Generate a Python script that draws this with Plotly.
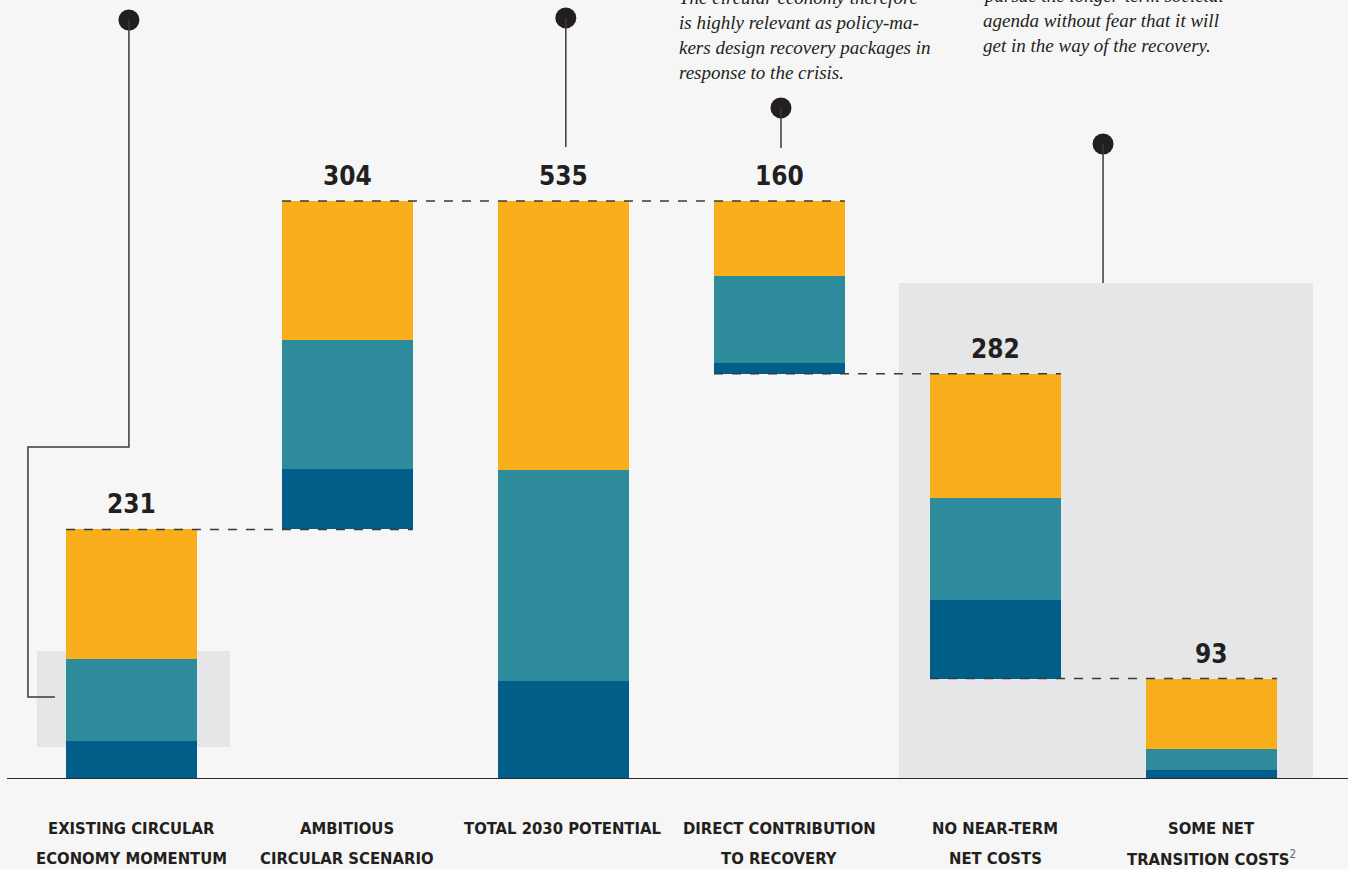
import plotly.graph_objects as go

# Waterfall of the circular-economy potential, split in three stacked components
categories = [
    "EXISTING CIRCULAR<br>ECONOMY MOMENTUM",
    "AMBITIOUS<br>CIRCULAR SCENARIO",
    "TOTAL 2030 POTENTIAL",
    "DIRECT CONTRIBUTION<br>TO RECOVERY",
    "NO NEAR-TERM<br>NET COSTS",
    "SOME NET<br>TRANSITION COSTS<sup>2</sup>",
]
kinds = ["up", "up", "total", "down", "down", "down"]
totals = [231, 304, 535, 160, 282, 93]
seg_blue = [35, 56, 91, 10, 73, 8]
seg_teal = [76, 119, 195, 81, 94, 20]
seg_yellow = [120, 129, 249, 69, 115, 65]

note_left = [
    "The circular economy therefore",
    "is highly relevant as policy-ma-",
    "kers design recovery packages in",
    "response to the crisis.",
]
note_right = [
    "pursue the longer-term societal",
    "agenda without fear that it will",
    "get in the way of the recovery.",
]

BG = "#f6f6f6"
GREY_BOX = "#e5e6e7"
INK = "#231f20"
LINE = "#3a3a3a"
C_BLUE = "#005e89"
C_TEAL = "#2d8b9c"
C_YELLOW = "#f9af1b"
NUM_FONT = "Liberation Sans Narrow, DejaVu Sans Condensed, Arial Narrow, DejaVu Sans, sans-serif"
NOTE_FONT = "Liberation Serif, DejaVu Serif, serif"

W = 0.606  # bar width in category units
xs = list(range(len(categories)))

# floating base of each waterfall column
bases, levels = [], []
running = 0
for k, t in zip(kinds, totals):
    if k == "up":
        bases.append(running)
        running += t
    elif k == "total":
        bases.append(0)
        running = t
    else:
        running -= t
        bases.append(running)
    levels.append(running)

base_blue = bases
base_teal = [b + v for b, v in zip(bases, seg_blue)]
base_yellow = [b + v for b, v in zip(base_teal, seg_teal)]

fig = go.Figure()
for vals, bs, col in [(seg_blue, base_blue, C_BLUE),
                      (seg_teal, base_teal, C_TEAL),
                      (seg_yellow, base_yellow, C_YELLOW)]:
    fig.add_trace(go.Bar(x=xs, y=vals, base=bs, width=W,
                         marker=dict(color=col, line=dict(width=0)),
                         hoverinfo="skip", showlegend=False))

shapes = []
# grey highlight panels
shapes.append(dict(type="rect", xref="x", yref="y", x0=-0.4375, x1=0.456,
                   y0=29.6, y1=118.5, fillcolor=GREY_BOX, line=dict(width=0), layer="below"))
shapes.append(dict(type="rect", xref="x", yref="y", x0=3.553, x1=5.469,
                   y0=0, y1=459, fillcolor=GREY_BOX, line=dict(width=0), layer="below"))

# dashed connectors, merged when consecutive steps share a level
segs = []
for i in range(len(xs) - 1):
    lvl = levels[i]
    x0, x1 = xs[i] - W / 2, xs[i + 1] + W / 2
    if segs and segs[-1][2] == lvl and segs[-1][1] >= x0:
        segs[-1][1] = x1
    else:
        segs.append([x0, x1, lvl])
for x0, x1, lvl in segs:
    shapes.append(dict(type="line", xref="x", yref="y", x0=x0, x1=x1, y0=lvl, y1=lvl,
                       line=dict(color=LINE, width=1.5, dash="dash"), layer="above"))

# baseline
shapes.append(dict(type="line", xref="paper", yref="y", x0=0, x1=1, y0=0, y1=0,
                   line=dict(color="#2b2b2b", width=2), layer="above"))

# callout pins
pin_paths = [
    [(-0.0116, 702.5), (-0.0116, 307.3), (-0.479, 307.3), (-0.479, 75.9), (-0.354, 75.9)],
    [(2.011, 704.4), (2.011, 585.0)],
    [(3.007, 621.1), (3.007, 584.0)],
    [(4.498, 587.7), (4.498, 459.1)],
]
for pts in pin_paths:
    d = "M " + " L ".join(f"{x},{y}" for x, y in pts)
    shapes.append(dict(type="path", xref="x", yref="y", path=d,
                       line=dict(color=LINE, width=1.5), layer="above"))
fig.add_trace(go.Scatter(x=[p[0][0] for p in pin_paths], y=[p[0][1] for p in pin_paths],
                         mode="markers", marker=dict(size=21, color=INK),
                         hoverinfo="skip", showlegend=False, cliponaxis=False))

annotations = []
# value labels
for x, b, t in zip(xs, bases, totals):
    annotations.append(dict(x=x, y=b + t, xref="x", yref="y", text=str(t),
                            showarrow=False, yanchor="middle", yshift=25,
                            font=dict(family=NUM_FONT, size=26, color=INK, weight="bold")))
# category labels, one annotation per line
for x, lab in zip(xs, categories):
    for k, line in enumerate(lab.split("<br>")):
        line = line.replace("<sup>2</sup>",
                            "<span style='font-weight:normal;color:#666'><sup>2</sup></span>")
        annotations.append(dict(x=x, y=0, xref="x", yref="y", text=line,
                                showarrow=False, yanchor="middle", yshift=-(49 + 30 * k),
                                font=dict(family=NUM_FONT, size=16.5, color=INK, weight="bold")))
# italic notes near the top edge
for x0, lines, y_first in [(2.525, note_left, -3), (3.933, note_right, -5)]:
    for k, line in enumerate(lines):
        yc = y_first + 25.3 * k
        annotations.append(dict(x=x0, y=1, xref="x", yref="paper", text=line,
                                showarrow=False, xanchor="left", yanchor="middle",
                                yshift=-yc,
                                font=dict(family=NOTE_FONT, size=19, color=INK, style="italic")))

fig.update_layout(
    width=1348, height=869,
    margin=dict(l=7, r=0, t=0, b=90, pad=0),
    paper_bgcolor=BG, plot_bgcolor=BG,
    barmode="overlay", bargap=0,
    xaxis=dict(range=[-0.576, 5.632], visible=False, fixedrange=True),
    yaxis=dict(range=[0, 721], visible=False, fixedrange=True),
    shapes=shapes, annotations=annotations,
    showlegend=False,
)

fig.write_html("out.html", config=dict(displayModeBar=False))
